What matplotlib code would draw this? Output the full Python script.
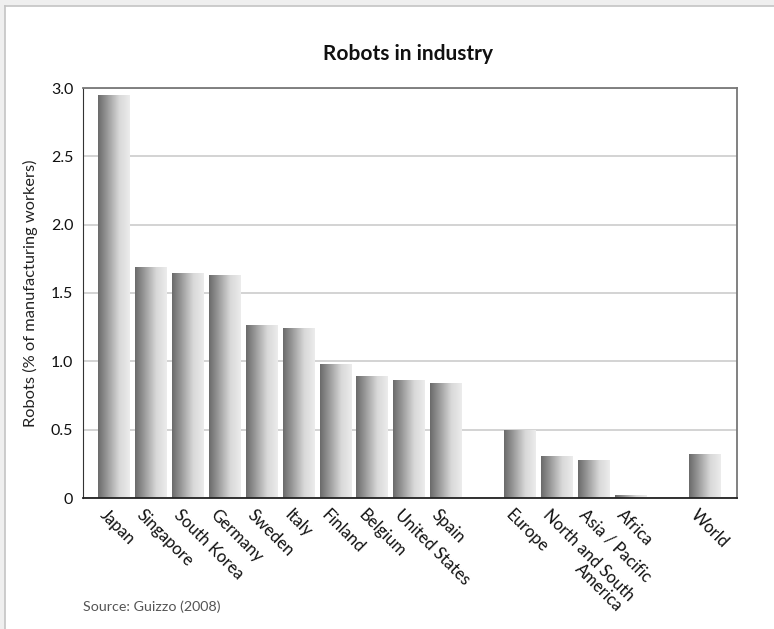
import matplotlib
matplotlib.use("Agg")
import matplotlib.pyplot as plt
import numpy as np
from matplotlib.patches import Rectangle
from matplotlib import transforms
from matplotlib.colors import LinearSegmentedColormap

categories = ["Japan", "Singapore", "South Korea", "Germany", "Sweden", "Italy",
              "Finland", "Belgium", "United States", "Spain",
              "Europe", "North and South\nAmerica", "Asia / Pacific", "Africa",
              "World"]
values = [2.95, 1.69, 1.645, 1.63, 1.265, 1.245, 0.98, 0.89, 0.86, 0.845,
          0.50, 0.31, 0.275, 0.02, 0.325]
positions = [0, 1, 2, 3, 4, 5, 6, 7, 8, 9, 11, 12, 13, 14, 16]
yticks = [0, 0.5, 1.0, 1.5, 2.0, 2.5, 3.0]
ytick_labels = ["0", "0.5", "1.0", "1.5", "2.0", "2.5", "3.0"]

plt.rcParams['font.family'] = ['Lato', 'DejaVu Sans']

fig = plt.figure(figsize=(7.74, 6.29), dpi=100)
ax = fig.add_axes([83/774, 1-498/629, (737-83)/774, (498-88)/629])

bars = ax.bar(positions, values, width=0.86, color='none', edgecolor='none', zorder=2)
grad = np.linspace(0.0, 1.0, 256).reshape(1, -1)
cmap = LinearSegmentedColormap.from_list('g', ['#6a6a6a', '#a0a0a0', '#d8d8d8', '#ececec'])
for b in bars:
    x0, y0 = b.get_x(), b.get_y()
    w, h = b.get_width(), b.get_height()
    im = ax.imshow(grad, cmap=cmap, aspect='auto', extent=(x0, x0 + w, y0, y0 + h),
                   zorder=2, interpolation='bilinear')
    im.set_clip_path(b)

ax.set_xlim(-0.84, 16.88)
ax.set_ylim(0, 3.0)
ax.set_yticks(yticks)
ax.set_yticklabels(ytick_labels, fontsize=11.5, color='#111111')
ax.yaxis.grid(True, color='#cccccc', linewidth=1.2, zorder=0)
ax.set_axisbelow(True)
ax.tick_params(axis='y', length=0, pad=7)
ax.tick_params(axis='x', length=0, pad=6)
ax.set_xticks(positions)
ax.set_xticklabels(categories, rotation=-45, ha='left', va='top',
                   rotation_mode='anchor', fontsize=12, color='#111111',
                   multialignment='right', linespacing=1.0)
offset = transforms.ScaledTranslation(-6/100, 0, fig.dpi_scale_trans)
for lbl in ax.get_xticklabels():
    lbl.set_transform(lbl.get_transform() + offset)

for s in ['top', 'right']:
    ax.spines[s].set_color('#777777')
    ax.spines[s].set_linewidth(1.3)
ax.spines['left'].set_color('#333333')
ax.spines['bottom'].set_color('#222222')
ax.spines['bottom'].set_linewidth(1.3)

ax.set_ylabel("Robots (% of manufacturing workers)", fontsize=11.8, color='#222222', labelpad=9)

fig.text(408/774, 1-54/629, "Robots in industry", ha='center', va='center',
         fontsize=15, fontweight='bold', color='#111111')
fig.text(83/774, 1-607/629, "Source: Guizzo (2008)", ha='left', va='center',
         fontsize=10.3, color='#555555')

# page edge shading (top and left)
fig.patches.append(Rectangle((0, 1-6/629), 1, 6/629, transform=fig.transFigure,
                             facecolor='#efefef', edgecolor='none'))
fig.patches.append(Rectangle((0, 0), 5/774, 1, transform=fig.transFigure,
                             facecolor='#efefef', edgecolor='none'))
fig.lines.append(plt.Line2D([5/774, 1], [1-6/629, 1-6/629], transform=fig.transFigure,
                            color='#c4c4c4', linewidth=1.2))
fig.lines.append(plt.Line2D([5/774, 5/774], [0, 1-6/629], transform=fig.transFigure,
                            color='#c4c4c4', linewidth=1.2))

fig.savefig("out.png", dpi=100)
